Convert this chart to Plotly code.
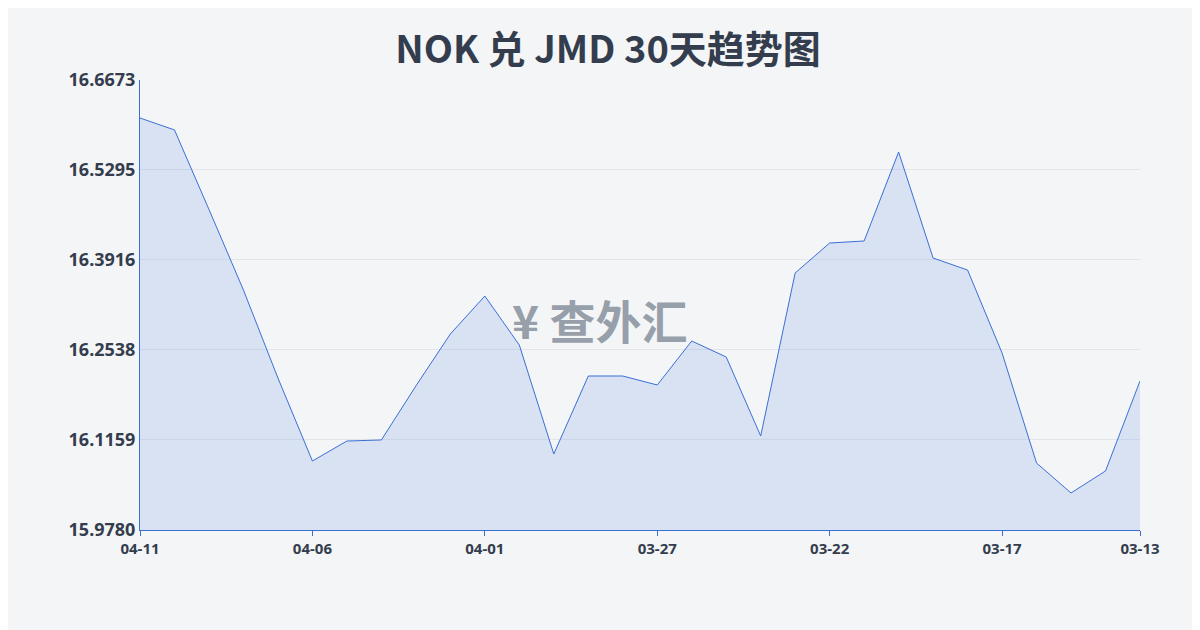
import plotly.graph_objects as go

dates = ['04-11', '04-10', '04-09', '04-08', '04-07', '04-06', '04-05', '04-04', '04-03', '04-02',
         '04-01', '03-31', '03-30', '03-29', '03-28', '03-27', '03-26', '03-25', '03-24', '03-23',
         '03-22', '03-21', '03-20', '03-19', '03-18', '03-17', '03-16', '03-15', '03-14', '03-13']
rates = [16.6091, 16.5908, 16.4690, 16.3456, 16.2108, 16.0837, 16.1143, 16.1159, 16.1986, 16.2782,
         16.3364, 16.2614, 16.0944, 16.2139, 16.2139, 16.2001, 16.2675, 16.2430, 16.1220, 16.3717,
         16.4176, 16.4207, 16.5570, 16.3946, 16.3762, 16.2491, 16.0806, 16.0347, 16.0684, 16.2062]
y_ticks = [15.9780, 16.1159, 16.2538, 16.3916, 16.5295, 16.6673]
x_tick_idx = [0, 5, 10, 15, 20, 25, 29]

idx = list(range(len(dates)))

fig = go.Figure()
fig.add_trace(go.Scatter(x=idx, y=rates, mode='lines',
                         line=dict(color='#3b6fd6', width=1),
                         fill='tozeroy', fillcolor='rgba(120,160,230,0.22)',
                         hoverinfo='skip'))

fig.add_annotation(x=0.46, y=0.47, xref='paper', yref='paper',
                   text='<b>¥ 查外汇</b>', showarrow=False,
                   font=dict(size=46, color='rgba(110,120,135,0.7)',
                             family='Noto Sans CJK SC'))

fig.update_layout(
    width=1200, height=630,
    paper_bgcolor='#f4f5f7', plot_bgcolor='#f4f5f7',
    margin=dict(l=132, r=68, t=72, b=108),
    showlegend=False,
    title=dict(text='<b>NOK 兑 JMD 30天趋势图</b>', x=0.5, y=0.955, xanchor='center',
               font=dict(size=38, color='#333d4d', family='Noto Sans CJK SC')),
    xaxis=dict(range=[0, 29], tickvals=x_tick_idx,
               ticktext=['<b>%s</b>' % dates[i] for i in x_tick_idx],
               showgrid=False, showline=True, linecolor='#3b6fd6',
               ticks='outside', tickcolor='#3b6fd6', ticklen=5,
               tickfont=dict(size=15, color='#333d4d', family='Noto Sans')),
    yaxis=dict(range=[15.978, 16.6673], tickvals=y_ticks,
               ticktext=['<b>%.4f</b>' % v for v in y_ticks],
               showgrid=True, gridcolor='#e3e5ea', zeroline=False,
               showline=True, linecolor='#3b6fd6',
               tickfont=dict(size=18, color='#333d4d', family='Noto Sans')),
)

fig.write_html("out.html")
